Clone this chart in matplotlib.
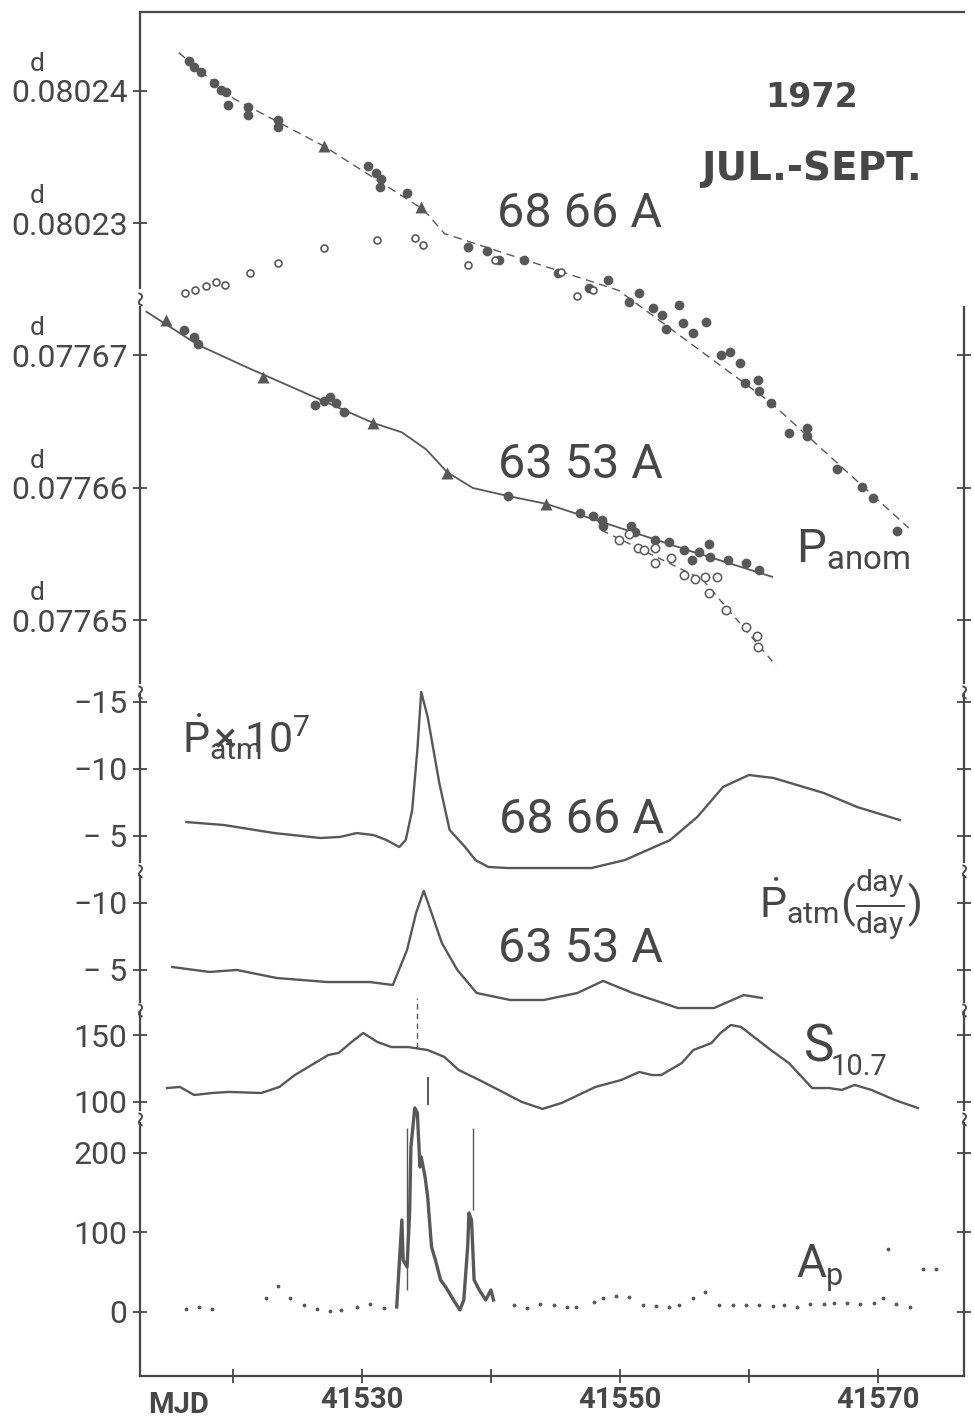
import matplotlib.pyplot as plt

# values (1972, Jul.-Sept.), x in MJD

# 68 66 A : anomalistic period (days), filled circles / triangles and fitted curve
a_day = [41516.6, 41517.0, 41517.5, 41518.5, 41519.1, 41519.5, 41519.6, 41521.2, 41521.2, 41523.5,
         41523.5, 41530.5, 41531.1, 41531.5, 41531.4, 41533.5, 41538.2, 41539.7, 41540.6, 41542.6,
         41545.2, 41547.6, 41549.1, 41550.7, 41551.5, 41552.6, 41553.3, 41553.6, 41554.6, 41554.9,
         41555.7, 41556.7, 41557.8, 41558.5, 41559.3, 41559.7, 41560.7, 41560.8, 41561.7, 41563.1,
         41564.5, 41564.5, 41566.8, 41568.8, 41569.6, 41571.5]
a_per = [0.0802423, 0.0802418, 0.0802414, 0.0802406, 0.0802401, 0.0802399, 0.0802389, 0.0802388, 0.0802382, 0.0802378,
         0.0802373, 0.0802343, 0.0802338, 0.0802333, 0.0802327, 0.0802323, 0.0802282, 0.0802279, 0.0802272, 0.0802272,
         0.0802262, 0.0802251, 0.0802257, 0.0802240, 0.0802247, 0.0802236, 0.0802230, 0.0802220, 0.0802238, 0.0802224,
         0.0802217, 0.0802225, 0.0802200, 0.0802202, 0.0802194, 0.0802179, 0.0802181, 0.0802173, 0.0802164, 0.0802141,
         0.0802145, 0.0802139, 0.0802114, 0.0802100, 0.0802092, 0.0802067]
a_tri_day = [41527.1, 41534.6]
a_tri_per = [0.0802358, 0.0802312]
a_fit_day = [41515.8, 41520.1, 41527.1, 41534.8, 41536.4, 41549.9, 41561.7, 41572.4]
a_fit_per = [0.0802429, 0.0802394, 0.0802358, 0.0802310, 0.0802292, 0.0802249, 0.0802164, 0.0802069]
# open symbols
ao_day = [41516.3, 41517.1, 41517.9, 41518.7, 41519.4, 41521.3, 41523.5, 41527.1, 41531.2, 41534.1,
          41534.7, 41538.2, 41540.3, 41545.4, 41546.7, 41547.9]
ao_per = [0.0802247, 0.0802249, 0.0802252, 0.0802255, 0.0802253, 0.0802262, 0.0802270, 0.0802281, 0.0802287, 0.0802289,
          0.0802283, 0.0802268, 0.0802272, 0.0802263, 0.0802245, 0.0802249]

# 63 53 A
b_day = [41516.2, 41517.0, 41517.3, 41526.4, 41527.1, 41527.5, 41528.0, 41528.6, 41541.3, 41546.9,
         41547.9, 41548.6, 41548.7, 41550.9, 41551.2, 41552.7, 41553.8, 41555.0, 41555.6, 41556.1,
         41556.9, 41557.0, 41558.4, 41559.8, 41560.8]
b_per = [0.0776719, 0.0776714, 0.0776709, 0.0776663, 0.0776666, 0.0776669, 0.0776664, 0.0776657, 0.0776594, 0.0776581,
         0.0776579, 0.0776576, 0.0776571, 0.0776571, 0.0776567, 0.0776561, 0.0776559, 0.0776553, 0.0776546, 0.0776552,
         0.0776558, 0.0776548, 0.0776546, 0.0776543, 0.0776538]
b_tri_day = [41514.8, 41522.3, 41530.9, 41536.6, 41544.3]
b_tri_per = [0.0776727, 0.0776684, 0.0776649, 0.0776611, 0.0776588]
b_fit_day = [41513.3, 41517.3, 41521.1, 41530.9, 41533.1, 41535.0, 41536.6, 41538.6, 41541.3, 41544.3,
             41548.7, 41555.6, 41561.8]
b_fit_per = [0.0776733, 0.0776708, 0.0776691, 0.0776649, 0.0776642, 0.0776629, 0.0776612, 0.0776600, 0.0776594, 0.0776588,
             0.0776574, 0.0776552, 0.0776533]
bo_day = [41549.9, 41550.7, 41551.4, 41551.9, 41552.7, 41552.7, 41554.0, 41555.0, 41555.8, 41556.6,
          41557.5, 41556.9, 41558.2, 41559.8, 41560.6, 41560.7]
bo_per = [0.0776561, 0.0776565, 0.0776555, 0.0776553, 0.0776555, 0.0776543, 0.0776547, 0.0776534, 0.0776531, 0.0776533,
          0.0776533, 0.0776521, 0.0776508, 0.0776495, 0.0776488, 0.0776480]
bo_fit_day = [41548.6, 41556.4, 41562.1]
bo_fit_per = [0.0776568, 0.0776531, 0.0776466]

# Pdot_atm x 10^7 (day/day)
c_day = [41516.4, 41519.3, 41523.2, 41526.8, 41528.3, 41529.6, 41530.9, 41531.9, 41532.9, 41533.4,
         41533.9, 41534.3, 41534.6, 41535.1, 41536.0, 41536.8, 41538.0, 41538.8, 41539.8, 41541.3,
         41547.8, 41550.4, 41553.9, 41556.0, 41558.0, 41560.0, 41561.9, 41565.8, 41568.4, 41571.7]
c_val = [-6.04, -5.82, -5.22, -4.85, -4.93, -5.22, -5.07, -4.70, -4.18, -4.70,
         -6.94, -11.42, -15.75, -13.88, -8.96, -5.45, -4.18, -3.21, -2.69, -2.61,
         -2.61, -3.21, -4.70, -6.42, -8.66, -9.55, -9.33, -8.21, -7.16, -6.19]
d_day = [41515.3, 41518.2, 41520.3, 41523.4, 41527.3, 41530.6, 41532.4, 41533.5, 41534.2, 41534.8,
         41535.4, 41536.2, 41537.4, 41538.9, 41541.5, 41544.1, 41546.7, 41548.7, 41551.0, 41554.5,
         41557.3, 41559.6, 41561.0]
d_val = [-5.22, -4.85, -5.0, -4.40, -4.10, -4.10, -3.88, -6.49, -9.25, -10.90,
         -9.25, -7.01, -5.0, -3.28, -2.76, -2.76, -3.28, -4.18, -3.28, -2.16,
         -2.16, -3.13, -2.91]

# S10.7 solar flux
e_day = [41514.9, 41515.9, 41517.0, 41518.4, 41519.7, 41522.2, 41523.6, 41524.8, 41526.1, 41527.4,
         41528.2, 41529.2, 41530.1, 41531.2, 41532.3, 41533.6, 41535.1, 41536.4, 41537.5, 41539.1,
         41540.6, 41542.4, 41544.0, 41545.5, 41548.1, 41550.1, 41551.5, 41552.5, 41553.2, 41554.8,
         41555.7, 41557.1, 41557.8, 41558.6, 41559.4, 41561.7, 41563.1, 41564.9, 41566.2, 41567.2,
         41568.2, 41569.5, 41571.3, 41573.1]
e_val = [110.4, 111.2, 105.2, 106.7, 107.5, 106.7, 111.2, 120.1, 127.6, 135.1,
         136.6, 144.8, 151.5, 144.8, 141.0, 141.0, 138.8, 133.6, 123.9, 116.4,
         109.0, 100.0, 94.8, 99.3, 111.2, 116.4, 122.4, 120.1, 120.1, 129.1,
         138.8, 144.0, 151.5, 157.5, 156.0, 138.8, 129.1, 110.4, 110.4, 109.0,
         112.7, 109.0, 101.5, 95.5]

# Ap : daily dots, 3-hourly trace during the storm, spikes
ap_day = [41516.4, 41517.4, 41518.4, 41522.6, 41523.5, 41524.4, 41525.5, 41526.5, 41527.5, 41528.4,
          41529.6, 41530.6, 41531.7, 41541.8, 41542.8, 41543.8, 41544.9, 41545.9, 41546.6, 41548.0,
          41548.7, 41549.7, 41550.7, 41551.8, 41552.8, 41553.8, 41554.6, 41555.7, 41556.6, 41557.7,
          41558.8, 41559.8, 41560.8, 41561.9, 41562.7, 41563.7, 41564.7, 41565.8, 41566.6, 41567.6,
          41568.6, 41569.7, 41570.4, 41571.4, 41572.5, 41570.8, 41573.5, 41574.5]
ap_val = [3.8, 6.3, 3.8, 17.6, 32.7, 17.6, 8.8, 3.8, 1.3, 2.5,
          6.3, 10.1, 5.0, 8.8, 5.0, 10.1, 8.8, 6.3, 6.3, 12.6,
          17.6, 20.1, 18.9, 8.8, 7.5, 6.3, 8.8, 17.6, 25.2, 8.8,
          8.8, 8.8, 8.8, 7.5, 8.8, 6.3, 10.1, 10.1, 11.3, 11.3,
          10.1, 11.3, 17.6, 10.1, 6.3, 79.2, 54.1, 54.1]
st_day = [41532.7, 41533.1, 41533.2, 41533.5, 41533.7, 41533.8, 41534.1, 41534.3, 41534.5, 41534.6,
          41534.9, 41535.1, 41535.4, 41535.7, 41536.1, 41536.5, 41537.1, 41537.6, 41537.9, 41538.2,
          41538.3, 41538.5, 41538.7, 41539.1, 41539.6, 41540.0, 41540.2]
st_val = [6.3, 115.7, 65.4, 56.6, 124.5, 207.5, 256.6, 250.3, 182.4, 195.0,
          169.8, 144.7, 81.8, 65.4, 40.3, 31.4, 15.1, 2.5, 15.1, 81.8,
          124.5, 115.7, 40.3, 27.7, 15.1, 27.7, 15.1]
spike_day = [41533.5, 41538.65]
spike_lo = [27.7, 128.0]
spike_hi = [231.0, 231.0]

# storm markers in the flux panel
mark_day = [41534.3, 41535.1]
mark_lo = [140.0, 97.8]
mark_hi = [178.0, 118.7]

# ---------------------------------------------------------------
W, H = 974, 1421
LEFT, RIGHT = 140, 964
X0 = 41512.8
X1 = X0 + (RIGHT - LEFT) / 12.9
ink = '#474747'
grey = '#585858'

plt.rcParams['font.family'] = ['Roboto', 'DejaVu Sans']
plt.rcParams['mathtext.fontset'] = 'custom'
plt.rcParams['mathtext.rm'] = 'Roboto'
plt.rcParams['mathtext.it'] = 'Roboto:italic'
plt.rcParams['mathtext.bf'] = 'Roboto:bold'
plt.rcParams['mathtext.default'] = 'regular'

fig = plt.figure(figsize=(W / 100, H / 100), dpi=100)


def at(x, y):
    # position -> figure fraction (the scan's left edge is slanted)
    lx = 150 - 0.0207 * (y - 15)
    return (x - lx + LEFT) / W, 1 - y / H


def panel(top, bot, ylim, ticks, labels, right=True):
    ax = fig.add_axes([LEFT / W, 1 - bot / H, (RIGHT - LEFT) / W, (bot - top) / H])
    ax.patch.set_visible(False)
    ax.set_xlim(X0, X1)
    ax.set_ylim(*ylim)
    ax.spines['top'].set_visible(False)
    ax.spines['bottom'].set_visible(False)
    ax.spines['right'].set_visible(right)
    for s in ax.spines.values():
        s.set_color(ink)
        s.set_linewidth(1.6)
    ax.set_yticks(ticks, labels)
    ax.tick_params(axis='y', direction='inout', length=10, width=1.3, color=ink,
                   labelcolor=ink, labelsize=23, right=right, pad=4)
    ax.tick_params(axis='x', bottom=False, labelbottom=False)
    return ax


ax_a = panel(12, 288, (0.08022508, 0.08024598), [0.08023, 0.08024], ['0.08023', '0.08024'], right=False)
ax_a.spines['top'].set_visible(True)
ax_b = panel(307, 683, (0.07764528, 0.07767366), [0.07765, 0.07766, 0.07767],
             ['0.07765', '0.07766', '0.07767'])
ax_c = panel(695, 862, (-3.06, -15.52), [-15, -10, -5], ['\u221215', '\u221210', '\u2212 5'])
ax_d = panel(876, 1002, (-2.61, -12.01), [-10, -5], ['\u221210', '\u2212 5'])
ax_e = panel(1012, 1110, (94.0, 167.2), [100, 150], ['100', '150'])
ax_f = panel(1123, 1376, (-80.5, 237.7), [0, 100, 200], ['0', '100', '200'])
ax_f.spines['bottom'].set_visible(True)
ax_f.set_xticks([41520, 41530, 41540, 41550, 41560, 41570],
                ['', '41530', '', '41550', '', '41570'])
ax_f.tick_params(axis='x', bottom=True, labelbottom=True, direction='inout', length=10,
                 width=1.3, color=ink, labelcolor=ink, labelsize=21, pad=2)
for t in ax_f.get_xticklabels():
    t.set_fontweight('bold')

# "d" above the period tick labels
for ax in (ax_a, ax_b):
    for t in ax.get_yticks():
        ax.annotate('d', xy=(0, t), xycoords=('axes fraction', 'data'), xytext=(-103, 27),
                    textcoords='offset pixels', ha='center', va='center', fontsize=19,
                    color=ink, annotation_clip=False)

# axis breaks
for y in (297, 690, 869, 1008, 1117):
    fig.text(LEFT / W, 1 - y / H, '~', rotation=90, ha='center', va='center', fontsize=18, color=ink)
for y in (690, 869, 1008, 1117):
    fig.text(RIGHT / W, 1 - y / H, '~', rotation=90, ha='center', va='center', fontsize=18, color=ink)

# --- period panels
ax_a.plot(a_fit_day, a_fit_per, color=grey, lw=1.0, ls=(0, (6, 4)), clip_on=False)
ax_a.plot(a_day, a_per, 'o', ms=7, color=grey, mec='none', clip_on=False)
ax_a.plot(a_tri_day, a_tri_per, '^', ms=9, color=grey, mec='none', clip_on=False)
ax_a.plot(ao_day, ao_per, 'o', ms=5, mfc='white', mec=grey, mew=1.2, clip_on=False)

ax_b.plot(b_fit_day, b_fit_per, color=grey, lw=1.3, clip_on=False)
ax_b.plot(b_day, b_per, 'o', ms=7, color=grey, mec='none', clip_on=False)
ax_b.plot(b_tri_day, b_tri_per, '^', ms=9, color=grey, mec='none', clip_on=False)
ax_b.plot(bo_fit_day, bo_fit_per, color=grey, lw=1.0, ls=(0, (5, 4)), clip_on=False)
ax_b.plot(bo_day, bo_per, 'o', ms=6, mfc='white', mec=grey, mew=1.1, clip_on=False)

# --- drag, flux and geomagnetic panels
ax_c.plot(c_day, c_val, color=grey, lw=1.7, clip_on=False)
ax_d.plot(d_day, d_val, color=grey, lw=1.7, clip_on=False)
ax_e.plot(e_day, e_val, color=grey, lw=1.7, clip_on=False)
ax_e.vlines(mark_day[0], mark_lo[0], mark_hi[0], color=grey, lw=1.0, ls=(0, (4, 3)), clip_on=False)
ax_e.vlines(mark_day[1], mark_lo[1], mark_hi[1], color=grey, lw=1.4, clip_on=False)
ax_f.plot(ap_day, ap_val, '.', ms=3.5, color=grey, clip_on=False)
ax_f.plot(st_day, st_val, color=grey, lw=2.4, clip_on=False)
ax_f.vlines(spike_day, spike_lo, spike_hi, color=grey, lw=1.0, clip_on=False)

# --- labels
bold = dict(family='DejaVu Sans', fontweight='bold', color=ink)
fig.text(*at(820, 107), '1972', fontsize=24, ha='center', va='baseline', **bold)
fig.text(*at(818, 180), 'JUL.-SEPT.', fontsize=28, ha='center', va='baseline', **bold)

big = dict(fontsize=35, ha='left', va='baseline', color=ink)
fig.text(*at(503, 227), '68 66 A', **big)
fig.text(*at(498, 478), '63 53 A', **big)
fig.text(*at(492, 833), '68 66 A', **big)
fig.text(*at(488, 962), '63 53 A', **big)

fig.text(*at(795, 563), r'$P_{anom}$', fontsize=34, va='baseline', color=ink)
fig.text(*at(177, 753), r'$\dot{P}_{atm}\hspace{-1.55}\times10^{7}$', fontsize=31, va='baseline', color=ink)
fig.text(*at(750, 918), r'$\dot{P}_{atm}(\frac{day}{day})$', fontsize=31, va='baseline', color=ink)

fig.text(*at(792, 1062), 'S', fontsize=37, va='baseline', color=ink)
fig.text(*at(819, 1075), '10.7', fontsize=21, va='baseline', color=ink)
fig.text(*at(780, 1277), 'A', fontsize=33, va='baseline', color=ink)
fig.text(*at(810, 1285), 'p', fontsize=22, va='baseline', color=ink)

fig.text(*at(160, 1413), 'MJD', fontsize=21, ha='center', va='baseline', fontweight='bold', color=ink)

fig.savefig('out.png', dpi=100)
